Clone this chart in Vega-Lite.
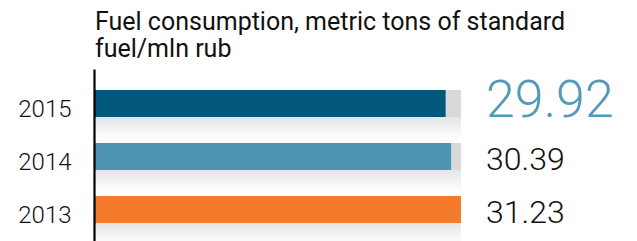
{
  "$schema": "https://vega.github.io/schema/vega-lite/v6.json",
  "width": 542,
  "height": 172,
  "autosize": {"type": "none"},
  "padding": {"left": 95, "top": 69, "right": 0, "bottom": 0},
  "background": "white",
  "config": {"view": {"stroke": null}, "font": "Roboto"},
  "title": {
    "text": ["Fuel consumption, metric tons of standard", "fuel/mln rub"],
    "anchor": "start",
    "frame": "group",
    "orient": "top",
    "baseline": "alphabetic",
    "offset": -13,
    "lineHeight": 26.7,
    "fontSize": 25,
    "fontWeight": 400,
    "font": "Roboto",
    "color": "#111111",
    "dx": 0
  },
  "data": {
    "values": [
      {"year": "2015", "value": 29.92},
      {"year": "2014", "value": 30.39},
      {"year": "2013", "value": 31.23}
    ]
  },
  "transform": [{"joinaggregate": [{"op": "max", "field": "value", "as": "maxval"}]}],
  "encoding": {
    "y": {
      "field": "year",
      "type": "nominal",
      "sort": ["2015", "2014", "2013"],
      "scale": {"paddingInner": 0.49, "paddingOuter": 0.3679, "align": 0.54},
      "axis": {
        "title": null,
        "ticks": false,
        "offset": 1,
        "domainColor": "#000000",
        "domainWidth": 2.2,
        "labelPadding": 23,
        "labelFontSize": 24,
        "labelFont": "Roboto",
        "labelFontWeight": 300,
        "labelColor": "#111111",
        "labelBaseline": "alphabetic",
        "labelOffset": 13,
        "zindex": 1
      }
    }
  },
  "layer": [
    {
      "mark": {
        "type": "bar",
        "size": 22,
        "yOffset": 24.5,
        "color": {
          "gradient": "linear",
          "x1": 0, "y1": 0, "x2": 0, "y2": 1,
          "stops": [
            {"offset": 0, "color": "#e4e5e6"},
            {"offset": 1, "color": "#ffffff"}
          ]
        }
      },
      "encoding": {
        "x": {"field": "maxval", "type": "quantitative", "scale": {"domain": [0, 46.25]}, "axis": null}
      }
    },
    {
      "mark": {"type": "bar", "color": "#d9d9d9"},
      "encoding": {
        "x": {"field": "maxval", "type": "quantitative", "scale": {"domain": [0, 46.25]}, "axis": null}
      }
    },
    {
      "mark": {"type": "bar"},
      "encoding": {
        "x": {"field": "value", "type": "quantitative", "scale": {"domain": [0, 46.25]}, "axis": null},
        "color": {
          "field": "year",
          "type": "nominal",
          "scale": {"domain": ["2015", "2014", "2013"], "range": ["#02587a", "#4e95b3", "#f47b2c"]},
          "legend": null
        }
      }
    },
    {
      "mark": {"type": "text", "align": "left", "baseline": "alphabetic", "dx": 25, "yOffset": 13.5, "font": "Roboto", "fontWeight": 300},
      "encoding": {
        "x": {"field": "maxval", "type": "quantitative", "scale": {"domain": [0, 46.25]}, "axis": null},
        "text": {"field": "value", "type": "quantitative", "format": ".2f"},
        "size": {"condition": {"test": "datum.year === '2015'", "value": 52}, "value": 32},
        "color": {"condition": {"test": "datum.year === '2015'", "value": "#5399b8"}, "value": "#111111"}
      }
    }
  ]
}
